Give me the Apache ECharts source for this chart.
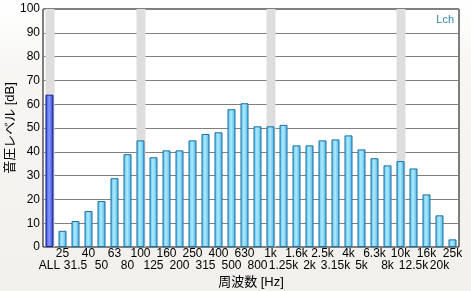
<!DOCTYPE html>
<html><head><meta charset="utf-8">
<script src="https://cdn.jsdelivr.net/npm/echarts@6/dist/echarts.min.js"></script>
<style>html,body{margin:0;padding:0;}#c{width:471px;height:291px;}</style>
</head><body><div id="c"></div>
<script>
var categories = ['ALL','25','31.5','40','50','63','80','100','125','160','200','250','315','400','500','630','800','1k','1.25k','1.6k','2k','2.5k','3.15k','4k','5k','6.3k','8k','10k','12.5k','16k','20k','25k'];
var levels = [64,6.8,10.9,15.1,19.3,28.9,39,44.8,37.7,40.6,40.6,44.8,47.5,48.2,57.9,60.4,50.7,50.7,51.3,42.7,42.7,44.8,45.2,46.9,41,37.3,34.3,36.1,33,22.1,13.3,3.2];
var highlighted = ['ALL','100','1k','10k'];
var yTicks = [0,10,20,30,40,50,60,70,80,90,100];

var chart = echarts.init(document.getElementById('c'), null, {renderer:'canvas'});
var bandData = categories.map(function(c){ return highlighted.indexOf(c) >= 0 ? yTicks[yTicks.length-1] : '-'; });
var barData = levels.map(function(v, i){
  if (i === 0) {
    return {value: v, itemStyle: {
      color: new echarts.graphic.LinearGradient(0,0,1,0,[{offset:0,color:'#2d44d8'},{offset:0.45,color:'#8a9cff'},{offset:1,color:'#2a3fd0'}]),
      borderColor:'#15208a', borderWidth:1}};
  }
  return v;
});
var font = '"Liberation Sans", "Noto Sans CJK JP", sans-serif';
chart.setOption({
  animation: false,
  backgroundColor: new echarts.graphic.LinearGradient(0,0,0,1,[{offset:0,color:'#ffffff'},{offset:0.25,color:'#f7f6f3'},{offset:1,color:'#f1f0eb'}]),
  grid: {left: 43, right: 12, top: 9, bottom: 44, outerBoundsMode: 'none', containLabel: false, show: true, backgroundColor: '#ffffff', borderColor: '#000', borderWidth: 1},
  graphic: [{type:'text', right: 17, top: 14, style: {text:'Lch', fill:'#2f86a8', font:'11px ' + font}}],
  xAxis: {
    type: 'category', data: categories,
    axisLine: {show: false}, axisTick: {show: false},
    axisLabel: {interval: 0, color: '#000', fontFamily: font, fontSize: 12, margin: 1, lineHeight: 12,
      formatter: function(v, i){ return i % 2 === 1 ? v + '\n ' : ' \n' + v; }},
    name: '周波数 [Hz]', nameLocation: 'middle', nameGap: 29, nameMoveOverlap: false,
    nameTextStyle: {color:'#000', fontFamily: font, fontSize: 13}
  },
  yAxis: {
    type: 'value', min: 0, max: 100, interval: 10,
    axisLine: {show: false}, axisTick: {show: false},
    axisLabel: {color:'#000', fontFamily: font, fontSize: 12, margin: 3},
    splitLine: {lineStyle: {color: '#808080', width: 1}},
    name: '音圧レベル [dB]', nameLocation: 'middle', nameGap: 26, nameMoveOverlap: false,
    nameTextStyle: {color:'#000', fontFamily: font, fontSize: 13}
  },
  series: [
    {type:'bar', data: bandData, barWidth: 9, barGap: '-100%', silent: true, z: 1,
     itemStyle: {color: '#dedede'}},
    {type:'bar', data: barData, barWidth: 8, z: 3,
     itemStyle: {
       color: new echarts.graphic.LinearGradient(0,0,1,0,[{offset:0,color:'#4cc0ee'},{offset:0.45,color:'#b2e9fc'},{offset:1,color:'#3fb2e4'}]),
       borderColor: '#1b6fa3', borderWidth: 1}}
  ]
});
</script></body></html>
